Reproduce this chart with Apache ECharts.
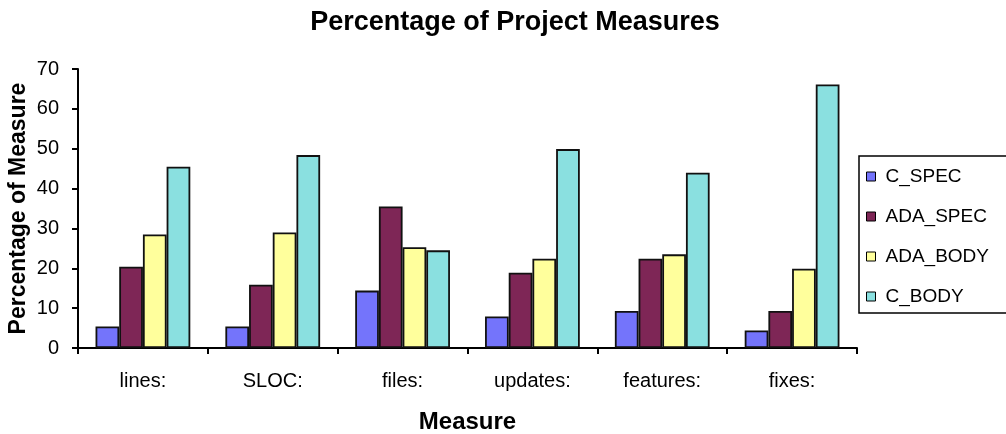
<!DOCTYPE html>
<html>
<head>
<meta charset="utf-8">
<script src="https://cdn.jsdelivr.net/npm/echarts@6/dist/echarts.min.js"></script>
<style>
html,body{margin:0;padding:0;background:#fff;}
#c{width:1006px;height:434px;}
</style>
</head>
<body>
<div id="c"></div>
<script>
const categories = ['lines:', 'SLOC:', 'files:', 'updates:', 'features:', 'fixes:'];
const cSpec   = [5.4, 5.4, 14.4, 7.9, 9.3, 4.4];
const adaSpec = [20.4, 15.9, 35.5, 18.9, 22.4, 9.3];
const adaBody = [28.5, 29.0, 25.3, 22.4, 23.5, 19.9];
const cBody   = [45.5, 48.4, 24.5, 49.9, 44.0, 66.1];
const seriesNames = ['C_SPEC', 'ADA_SPEC', 'ADA_BODY', 'C_BODY'];
const yTicks = [0, 10, 20, 30, 40, 50, 60, 70];

const colors = ['#7474fb', '#7e2656', '#ffff9c', '#8ae0e0'];
const font = 'Liberation Sans, Arial, sans-serif';

const chart = echarts.init(document.getElementById('c'), null, {renderer: 'canvas'});
const values = [cSpec, adaSpec, adaBody, cBody];

chart.setOption({
  animation: false,
  backgroundColor: '#fff',
  title: {
    text: 'Percentage of Project Measures',
    left: 510, top: 4, textAlign: 'center',
    textStyle: {fontFamily: font, fontWeight: 'bold', fontSize: 27, color: '#000'}
  },
  legend: {
    orient: 'vertical',
    left: 859, top: 156,
    data: seriesNames,
    itemWidth: 9, itemHeight: 9, itemGap: 21,
    padding: [11, 40, 7, 7],
    borderColor: '#000', borderWidth: 1.5,
    icon: 'rect',
    itemStyle: {borderColor: '#000', borderWidth: 1},
    textStyle: {fontFamily: font, fontSize: 19, color: '#000', padding: [0, 0, 0, 5]}
  },
  grid: {left: 78, right: 149, top: 69, bottom: 86, containLabel: false, outerBoundsMode: 'none'},
  xAxis: {
    type: 'category',
    data: categories,
    name: 'Measure',
    nameLocation: 'middle',
    nameGap: 62,
    nameMoveOverlap: false,
    nameTextStyle: {fontFamily: font, fontWeight: 'bold', fontSize: 24, color: '#000'},
    axisLine: {lineStyle: {color: '#000', width: 2}},
    axisTick: {show: true, length: 6, lineStyle: {color: '#000', width: 2}},
    axisLabel: {fontFamily: font, fontSize: 20, color: '#000', margin: 23}
  },
  yAxis: {
    type: 'value',
    min: yTicks[0], max: yTicks[yTicks.length - 1], interval: 10,
    name: 'Percentage of Measure',
    nameLocation: 'middle',
    nameGap: 48,
    nameMoveOverlap: false,
    nameTextStyle: {fontFamily: font, fontWeight: 'bold', fontSize: 23, color: '#000'},
    axisLine: {show: true, lineStyle: {color: '#000', width: 2}},
    axisTick: {show: true, length: 6, lineStyle: {color: '#000', width: 2}},
    splitLine: {show: false},
    axisLabel: {fontFamily: font, fontSize: 20, color: '#000', margin: 19}
  },
  series: seriesNames.map((n, i) => ({
    name: n,
    type: 'bar',
    data: values[i],
    barGap: '0%',
    barCategoryGap: '27%',
    itemStyle: {color: colors[i], borderColor: '#111', borderWidth: 1.8}
  }))
});
</script>
</body>
</html>
